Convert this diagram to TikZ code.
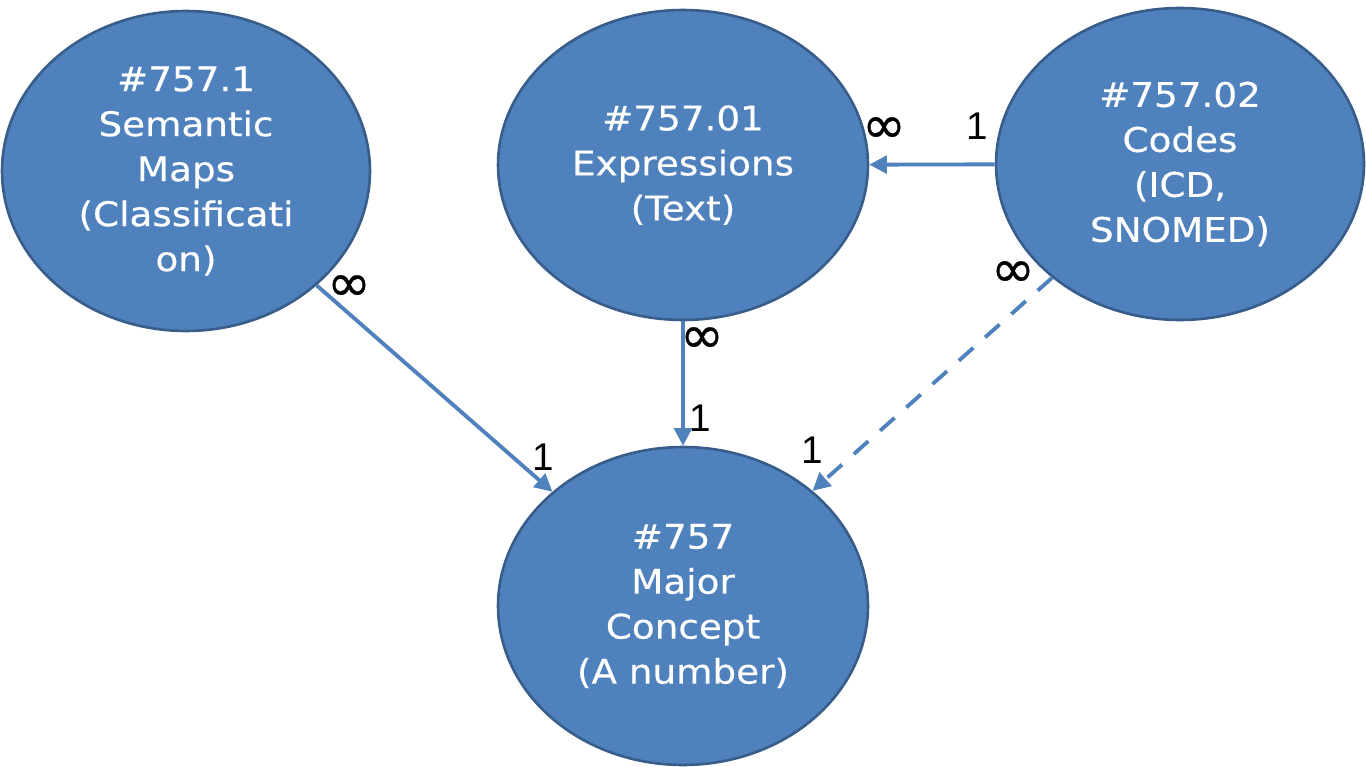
\documentclass[tikz,border=0pt]{standalone}
\usepackage{fontspec}
\setmainfont[FakeStretch=1.1, FakeBold=0.4]{DejaVu Sans}
\newfontfamily\labelfont{Liberation Sans}
\newfontfamily\symbfont[FakeBold=0.6]{DejaVu Sans}
\usepackage{tikz}
\usetikzlibrary{arrows.meta, positioning, shapes.geometric}
\definecolor{OfficeBlue}{HTML}{4F81BD}
\definecolor{OfficeEdge}{HTML}{385D8A}

\begin{document}
\begin{tikzpicture}[x=0.02cm, y=-0.02cm,
    entity/.style={ellipse, fill=OfficeBlue, draw=OfficeEdge, line width=1.5pt,
        inner sep=0pt, text=white, align=center,
        font=\fontsize{19.3pt}{25.6pt}\selectfont},
    link/.style={draw=OfficeBlue, line width=2.2pt, -{Triangle[length=10pt, width=10pt]}},
    card/.style={inner sep=0pt, text=black, font=\labelfont\fontsize{22pt}{24pt}\selectfont},
    many/.style={card, font=\symbfont\fontsize{30pt}{32pt}\selectfont}]
    \useasboundingbox (0,0) rectangle (1366,767);

    % the four entities
    \node[entity, minimum width=7.36cm, minimum height=6.4cm] (maps) at (186,171)
        {\#757.1\\Semantic\\Maps\\(Classificati\\on)};
    \node[entity, minimum width=7.4cm, minimum height=6.2cm] (expr) at (683,165)
        {\#757.01\\Expressions\\(Text)};
    \node[entity, minimum width=7.36cm, minimum height=6.24cm] (codes) at (1180,164)
        {\#757.02\\Codes\\(ICD,\\SNOMED)};
    \node[entity, minimum width=7.4cm, minimum height=6.36cm] (major) at (683,606)
        {\#757\\Major\\Concept\\(A number)};

    % relations
    \draw[link] (maps) -- (major);
    \draw[link] (expr) -- (major);
    \draw[link] (codes) -- (expr);
    \draw[link, dash pattern=on 11pt off 9pt] (codes) -- (major);

    % cardinalities
    \node[many] (mapsmany) at (349,288) {∞};
    \node[card] (mapsone) at (543,457) {1};
    \node[many] (exprmany) at (702,340) {∞};
    \node[card] (exprone) at (700,418) {1};
    \node[many] (codesmany) at (884,130) {∞};
    \node[card] (codesone) at (977,126) {1};
    \node[many] (dashmany) at (1013,274) {∞};
    \node[card] (dashone) at (812,450) {1};
\end{tikzpicture}
\end{document}
